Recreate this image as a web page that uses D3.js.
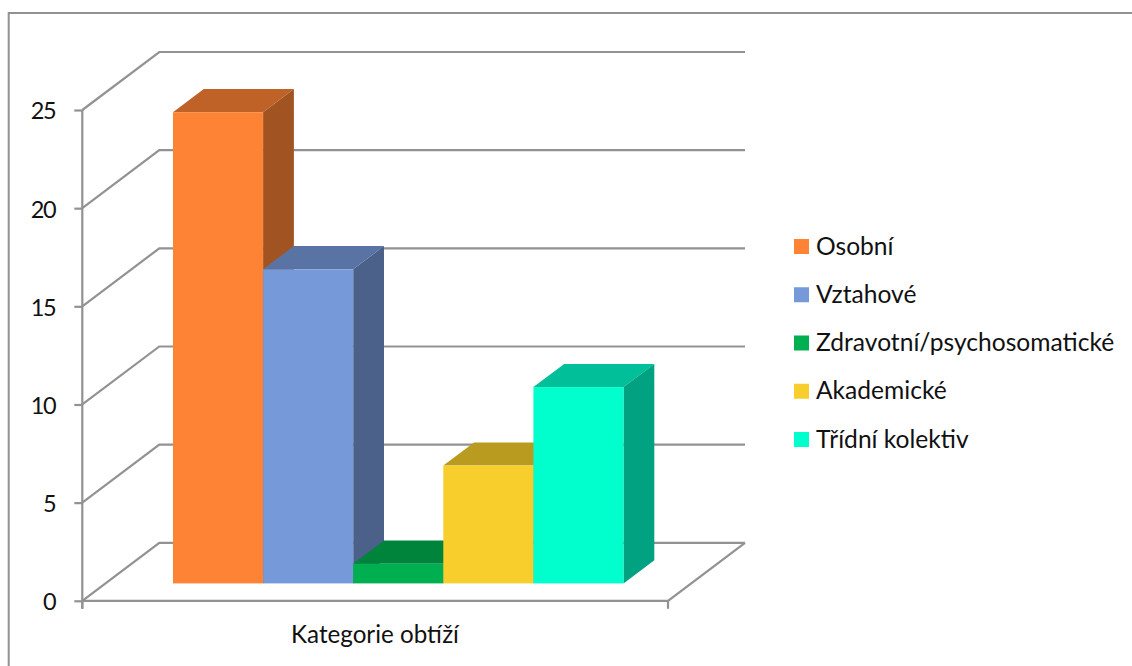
<!DOCTYPE html>
<html lang="en">
<head>
    <meta charset="UTF-8"/>
    <title>Kategorie obtíží</title>
    <script src="https://d3js.org/d3.v7.min.js"></script>
    <style>
        html, body { margin: 0; padding: 0; background: #fff; }
        svg { display: block; }
        text { font-family: Lato, "Open Sans", sans-serif; fill: #111; }
    </style>
</head>
<body>
    <script>
        var categories = ["Osobní", "Vztahové", "Zdravotní/psychosomatické", "Akademické", "Třídní kolektiv"];
        var values = [24, 16, 1, 6, 10];
        var colors = ["#ff8335", "#7699da", "#00b050", "#f7ce2b", "#00ffcc"];
        var yTicks = [0, 5, 10, 15, 20, 25];
        var xTitle = "Kategorie obtíží";

        var w = 1132;
        var h = 666;
        var grey = "#929292";

        var svg = d3.select("body").append("svg")
            .attr("width", w)
            .attr("height", h);

        // chart frame
        svg.append("path")
            .attr("d", "M8.7,666V13H1132")
            .attr("fill", "none")
            .attr("stroke", grey)
            .attr("stroke-width", 2);

        // front plane scales
        var x = d3.scaleBand()
            .domain(categories)
            .range([82.3, 668])
            .paddingInner(0)
            .paddingOuter(0.75);
        var y = d3.scaleLinear().domain([0, 25]).range([600.8, 110]);

        // depth goes from 0 (front) to 1 (back wall)
        var depthX = d3.scaleLinear().domain([0, 1]).range([0, 77]);
        var depthY = d3.scaleLinear().domain([0, 1]).range([0, -58]);
        var barDepth = [0.3, 0.7];

        function px(xVal, d) { return xVal + depthX(d); }
        function py(v, d) { return y(v) + depthY(d); }
        function poly(pts) { return "M" + pts.map(function(p) { return p.join(","); }).join("L") + "Z"; }

        var x0 = x.range()[0];
        var x1 = x.range()[1];

        // gridlines: side wall + back wall
        svg.append("g").selectAll("path")
            .data(yTicks)
            .enter()
            .append("path")
            .attr("d", function(d) {
                return "M" + x0 + "," + y(d) + "L" + px(x0, 1) + "," + py(d, 1) + "L" + px(x1, 1) + "," + py(d, 1);
            })
            .attr("fill", "none")
            .attr("stroke", grey)
            .attr("stroke-width", 2.2);

        // floor front and right edge
        svg.append("path")
            .attr("d", "M" + x0 + "," + y(0) + "L" + x1 + "," + y(0) + "L" + px(x1, 1) + "," + py(0, 1))
            .attr("fill", "none")
            .attr("stroke", grey)
            .attr("stroke-width", 2.2);

        var yAxis = svg.append("g")
            .attr("transform", "translate(" + x0 + ",0)")
            .call(d3.axisLeft(y).tickValues(yTicks).tickSize(8).tickPadding(19));
        yAxis.selectAll("path, line").attr("stroke", grey).attr("stroke-width", 2.2);
        yAxis.select("path").attr("d", "M0," + y(25) + "V" + (y(0) + 8));
        yAxis.selectAll("text")
            .attr("font-size", 23.5)
            .attr("letter-spacing", -1.4)
            .attr("dy", "0.38em")
            .style("font-family", "Lato")
            .attr("fill", "#111");

        // x axis end ticks
        svg.append("g").selectAll("line")
            .data([x0, x1])
            .enter()
            .append("line")
            .attr("x1", function(d) { return d; })
            .attr("x2", function(d) { return d; })
            .attr("y1", y(0))
            .attr("y2", y(0) + 8)
            .attr("stroke", grey)
            .attr("stroke-width", 2.2);

        // bars, drawn left to right so that neighbours overlap like in the 3D view
        var bars = svg.append("g").selectAll("g")
            .data(categories)
            .enter()
            .append("g");

        function shade(c, k) {
            var r = d3.rgb(c);
            return d3.rgb(r.r * k, r.g * k, r.b * k).formatHex();
        }

        // top
        bars.append("path")
            .attr("d", function(d, i) {
                var a = x(d), b = x(d) + x.bandwidth(), v = values[i];
                return poly([[px(a, barDepth[0]), py(v, barDepth[0])], [px(a, barDepth[1]), py(v, barDepth[1])],
                    [px(b, barDepth[1]), py(v, barDepth[1])], [px(b, barDepth[0]), py(v, barDepth[0])]]);
            })
            .attr("fill", function(d, i) { return shade(colors[i], 0.75); });

        // right side
        bars.append("path")
            .attr("d", function(d, i) {
                var b = x(d) + x.bandwidth(), v = values[i];
                return poly([[px(b, barDepth[0]), py(v, barDepth[0])], [px(b, barDepth[1]), py(v, barDepth[1])],
                    [px(b, barDepth[1]), py(0, barDepth[1])], [px(b, barDepth[0]), py(0, barDepth[0])]]);
            })
            .attr("fill", function(d, i) { return shade(colors[i], 0.635); });

        // front
        bars.append("rect")
            .attr("x", function(d) { return px(x(d), barDepth[0]); })
            .attr("y", function(d, i) { return py(values[i], barDepth[0]); })
            .attr("width", x.bandwidth())
            .attr("height", function(d, i) { return y(0) - y(values[i]); })
            .attr("fill", function(d, i) { return colors[i]; });

        // axis title
        svg.append("text")
            .attr("x", 375)
            .attr("y", 643)
            .attr("text-anchor", "middle")
            .attr("font-size", 24.2)
            .text(xTitle);

        // legend
        var legendY = d3.scalePoint().domain(categories).range([246.5, 439.5]);
        var legend = svg.append("g").selectAll("g")
            .data(categories)
            .enter()
            .append("g")
            .attr("transform", function(d) { return "translate(794," + legendY(d) + ")"; });
        legend.append("rect")
            .attr("y", -7.5)
            .attr("width", 15)
            .attr("height", 15)
            .attr("fill", function(d, i) { return colors[i]; });
        legend.append("text")
            .attr("x", 22)
            .attr("y", 8.2)
            .attr("font-size", 24.6)
            .text(function(d) { return d; });
    </script>
</body>
</html>
